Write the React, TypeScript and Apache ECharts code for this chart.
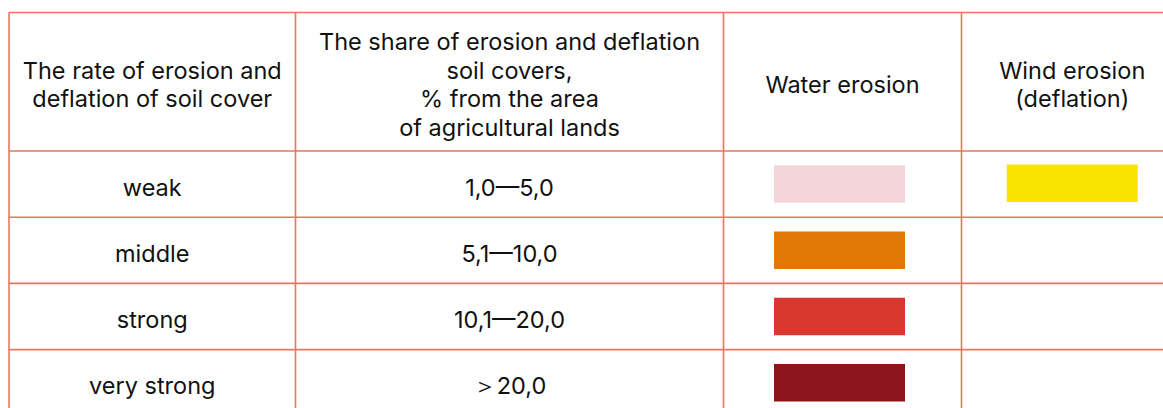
import React, { useEffect, useRef } from 'react';
import * as echarts from 'echarts';

const headers = [
  'The rate of erosion and\ndeflation of soil cover',
  'The share of erosion and deflation\nsoil covers,\n% from the area\nof agricultural lands',
  'Water erosion',
  'Wind erosion\n(deflation)',
];
const categories = ['weak', 'middle', 'strong', 'very strong'];
const shares = ['1,0—5,0', '5,1—10,0', '10,1—20,0', '＞20,0'];
const waterColors = ['#F5D6D8', '#E07808', '#DA372F', '#8C141B'];
const windColors: (string | null)[] = ['#F8E400', null, null, null];

const W = 1163;
const H = 408;
const colX = [9, 295.5, 723.5, 961.5, 1183];
const top = 12.5;
const headerBottom = 151;
const rowH = 66.2;
const lineColor = '#E8775F';
const font = 'Inter, "Noto Sans", sans-serif';
const fontSize = 23.5;

export default function App() {
  const ref = useRef<HTMLDivElement>(null);
  useEffect(() => {
    if (!ref.current) return;
    const chart = echarts.init(ref.current, null, { renderer: 'svg' });
    const els: any[] = [];
    const rowTops = categories.map((_, i) => headerBottom + i * rowH);
    const hLines = [top, headerBottom, ...rowTops.slice(1), headerBottom + categories.length * rowH];
    hLines.forEach((y) => {
      els.push({ type: 'line', shape: { x1: colX[0], y1: y, x2: W, y2: y }, style: { stroke: lineColor, lineWidth: 1.6 } });
    });
    colX.forEach((x) => {
      els.push({ type: 'line', shape: { x1: x, y1: top, x2: x, y2: H + 20 }, style: { stroke: lineColor, lineWidth: 1.6 } });
    });
    const center = (c: number) => (colX[c] + colX[c + 1]) / 2;
    const text = (t: string, x: number, y: number) => ({
      type: 'text',
      x,
      y,
      style: {
        text: t,
        fontSize,
        fontFamily: font,
        fill: '#111',
        align: 'center',
        verticalAlign: 'middle',
        lineHeight: 28.5,
      },
    });
    headers.forEach((h, c) => {
      els.push(text(h, center(c), (top + headerBottom) / 2 + 2.5));
    });
    categories.forEach((cat, i) => {
      const cy = rowTops[i] + rowH / 2 + 3;
      els.push(text(cat, center(0), cy));
      els.push(text(shares[i], center(1), cy));
      const sw = 131;
      const sh = 37.5;
      els.push({
        type: 'rect',
        shape: { x: center(2) - 3 - sw / 2, y: rowTops[i] + rowH / 2 - sh / 2, width: sw, height: sh },
        style: { fill: waterColors[i] },
      });
      const wc = windColors[i];
      if (wc) {
        els.push({
          type: 'rect',
          shape: { x: center(3) - sw / 2, y: rowTops[i] + rowH / 2 - sh / 2 - 0.8, width: sw, height: sh },
          style: { fill: wc },
        });
      }
    });
    chart.setOption({ animation: false, backgroundColor: '#fff', graphic: { elements: els } });
    return () => chart.dispose();
  }, []);
  return <div ref={ref} style={{ position: 'fixed', left: 0, top: 0, width: W, height: H }} />;
}
